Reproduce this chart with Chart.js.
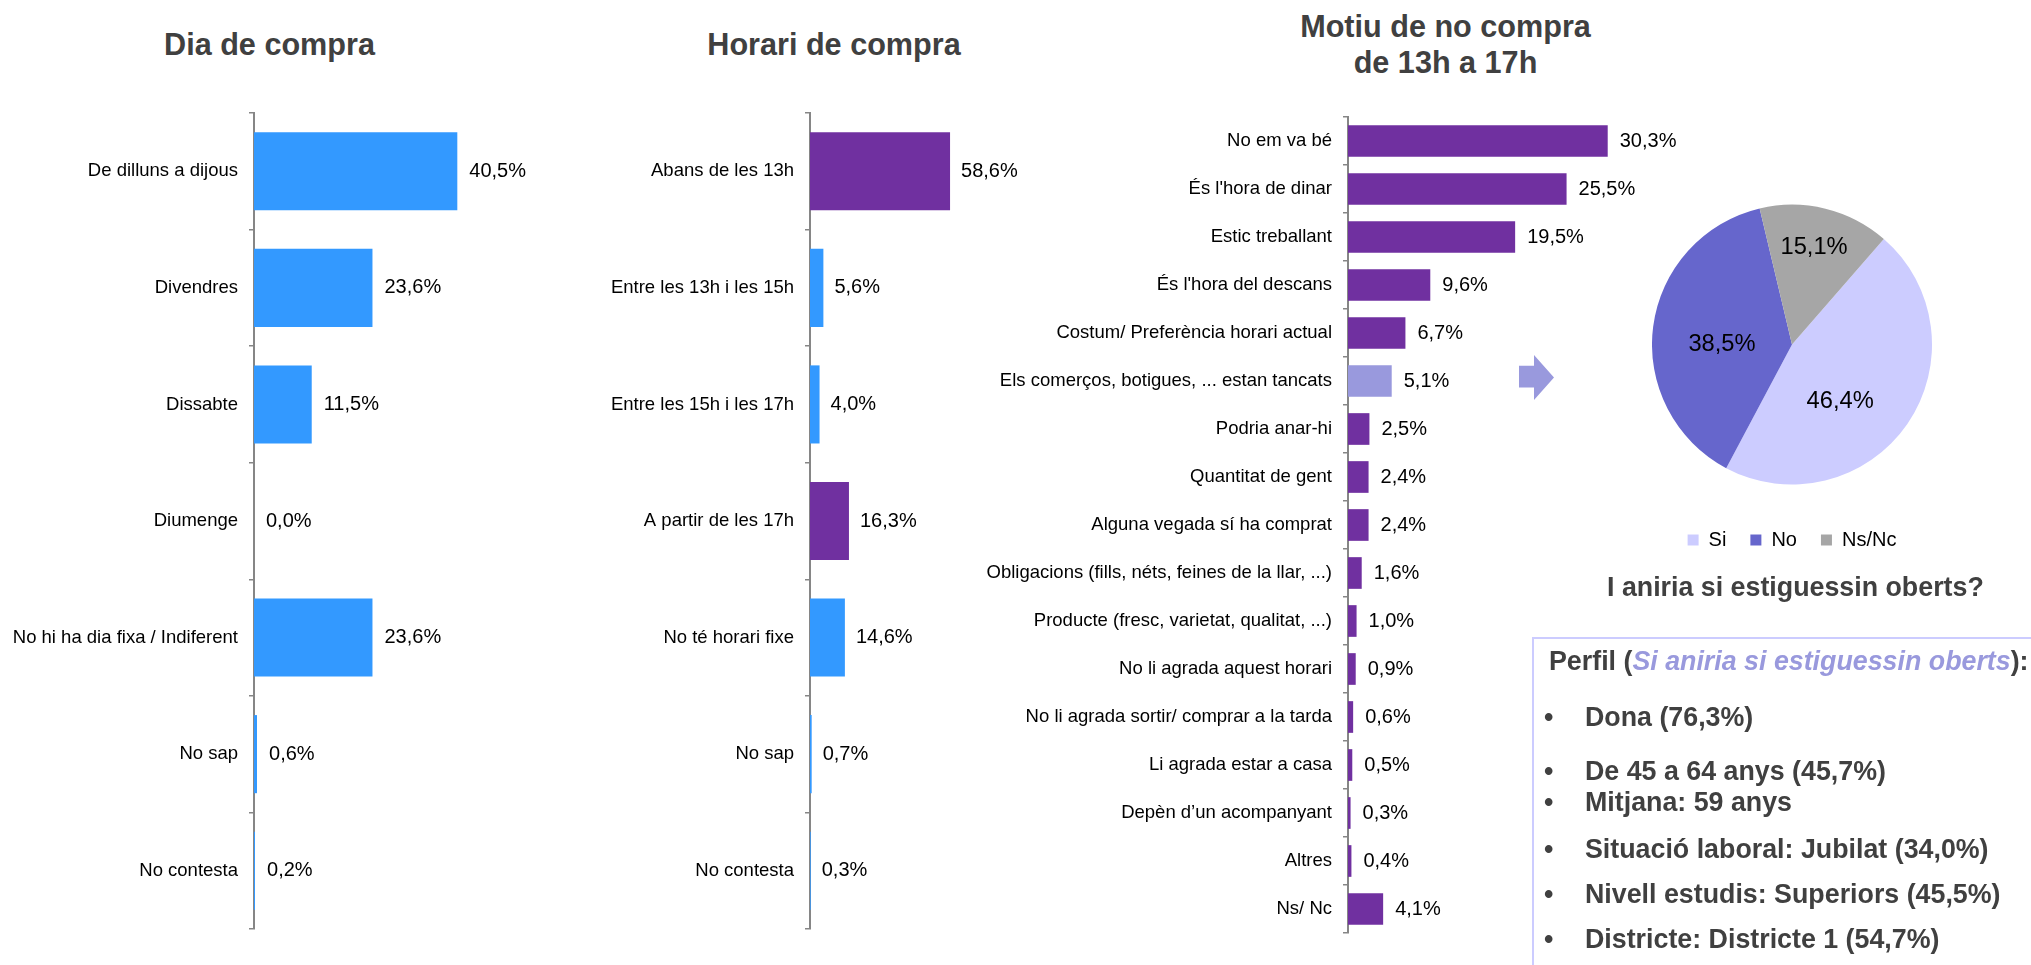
<!DOCTYPE html>
<html>
<head>
<meta charset="utf-8">
<script src="https://cdn.jsdelivr.net/npm/chart.js@4/dist/chart.umd.min.js"></script>
<style>
html,body{margin:0;padding:0;background:#fff;}
body{width:2031px;height:965px;overflow:hidden;position:relative;font-family:"Liberation Sans",Arial,sans-serif;}
canvas{position:absolute;}
.title{position:absolute;font-weight:bold;color:#404040;white-space:nowrap;text-align:center;font-size:30.6px;line-height:30.6px;width:500px;}
.q{position:absolute;font-weight:bold;color:#404040;white-space:nowrap;text-align:center;font-size:26.8px;line-height:26.8px;width:500px;left:1545.4px;top:574.3px;}
.box{position:absolute;left:1532px;top:636.7px;width:520px;height:360px;border:2px solid #CCCCFF;box-sizing:border-box;}
.pl{position:absolute;font-weight:bold;color:#404040;white-space:nowrap;font-size:26.8px;line-height:26.8px;}
.pl .b{position:absolute;left:-41px;}
</style>
</head>
<body>
<canvas id="c1" width="540" height="840" style="left:0;top:100px;"></canvas>
<canvas id="c2" width="520" height="840" style="left:560px;top:100px;"></canvas>
<canvas id="c3" width="720" height="840" style="left:960px;top:100px;"></canvas>
<canvas id="c4" width="280" height="380" style="left:1652px;top:180px;"></canvas>

<div class="title" style="left:19.5px;top:29.1px;">Dia de compra</div>
<div class="title" style="left:584px;top:29.1px;">Horari de compra</div>
<div class="title" style="left:1195.5px;top:9.3px;line-height:35.4px;">Motiu de no compra<br>de 13h a 17h</div>

<svg style="position:absolute;left:0;top:0;" width="2031" height="965">
  <polygon points="1519,365.8 1534,365.8 1534,355 1554,377.5 1534,400 1534,387.5 1519,387.5" fill="#9999DD"/>
</svg>

<div class="q">I aniria si estiguessin oberts?</div>

<div class="box"></div>
<div class="pl" style="left:1549px;top:648px;">Perfil (<i style="color:#9999DD;">Si aniria si estiguessin oberts</i>):</div>
<div class="pl" style="left:1585px;top:704px;"><span class="b">•</span>Dona (76,3%)</div>
<div class="pl" style="left:1585px;top:758px;"><span class="b">•</span>De 45 a 64 anys (45,7%)</div>
<div class="pl" style="left:1585px;top:789px;"><span class="b">•</span>Mitjana: 59 anys</div>
<div class="pl" style="left:1585px;top:835.6px;"><span class="b">•</span>Situació laboral: Jubilat (34,0%)</div>
<div class="pl" style="left:1585px;top:881.3px;"><span class="b">•</span>Nivell estudis: Superiors (45,5%)</div>
<div class="pl" style="left:1585px;top:925.6px;"><span class="b">•</span>Districte: Districte 1 (54,7%)</div>

<script>
// ---------- DATA ----------
const diaCategories = ["De dilluns a dijous", "Divendres", "Dissabte", "Diumenge", "No hi ha dia fixa / Indiferent", "No sap", "No contesta"];
const diaValues = [40.5, 23.6, 11.5, 0.0, 23.6, 0.6, 0.2];

const horariCategories = ["Abans de les 13h", "Entre les 13h i les 15h", "Entre les 15h i les 17h", "A partir de les 17h", "No té horari fixe", "No sap", "No contesta"];
const horariValues = [58.6, 5.6, 4.0, 16.3, 14.6, 0.7, 0.3];

const motiuCategories = ["No em va bé", "És l'hora de dinar", "Estic treballant", "És l'hora del descans", "Costum/ Preferència horari actual", "Els comerços, botigues, ... estan tancats", "Podria anar-hi", "Quantitat de gent", "Alguna vegada sí ha comprat", "Obligacions (fills, néts, feines de la llar, ...)", "Producte (fresc, varietat, qualitat, ...)", "No li agrada aquest horari", "No li agrada sortir/ comprar a la tarda", "Li agrada estar a casa", "Depèn d\u2019un acompanyant", "Altres", "Ns/ Nc"];
const motiuValues = [30.3, 25.5, 19.5, 9.6, 6.7, 5.1, 2.5, 2.4, 2.4, 1.6, 1.0, 0.9, 0.6, 0.5, 0.3, 0.4, 4.1];

const pieLabels = ["Si", "No", "Ns/Nc"];
const pieValues = [46.4, 38.5, 15.1];

// ---------- STYLE ----------
const FONT = '"Liberation Sans", Arial, sans-serif';
const BLUE = '#3399FF', PURPLE = '#7030A0', LAV = '#9999DD';
const diaColors = diaValues.map(() => BLUE);
const horariColors = [PURPLE, BLUE, BLUE, PURPLE, BLUE, BLUE, BLUE];
const motiuColors = motiuValues.map((v, i) => i === 5 ? LAV : PURPLE);
const pieColors = ['#CCCCFF', '#6666CC', '#A6A6A6'];
const pieLabelRadius = [0.53, 0.5, 0.71];
const pieLabelAngleShift = [15, -7, -1];

function fmt(v) { return v.toFixed(1).replace('.', ',') + '%'; }

function valueLabels(gap) {
  return {
    id: 'valueLabels',
    afterDatasetsDraw(chart) {
      const ctx = chart.ctx;
      const meta = chart.getDatasetMeta(0);
      const data = chart.data.datasets[0].data;
      ctx.save();
      ctx.font = '20px ' + FONT;
      ctx.fillStyle = '#000';
      ctx.textBaseline = 'middle';
      ctx.textAlign = 'left';
      meta.data.forEach((bar, i) => {
        ctx.fillText(fmt(data[i]), Math.max(bar.x, bar.base) + gap, bar.y);
      });
      ctx.restore();
    }
  };
}

function makeBar(id, labels, values, colors, cfg) {
  return new Chart(document.getElementById(id), {
    type: 'bar',
    data: {
      labels: labels,
      datasets: [{
        data: values,
        backgroundColor: colors,
        borderWidth: 0,
        barPercentage: cfg.barPct,
        categoryPercentage: 1
      }]
    },
    options: {
      indexAxis: 'y',
      responsive: false,
      animation: false,
      layout: { padding: cfg.padding },
      plugins: { legend: { display: false }, tooltip: { enabled: false } },
      scales: {
        x: { display: false, min: 0, max: cfg.max },
        y: {
          afterFit(s) { s.width = cfg.axisWidth; s.paddingTop = 0; s.paddingBottom = 0; },
          grid: { display: true, offset: true, drawOnChartArea: false, drawTicks: true, tickLength: 5, color: '#868686', lineWidth: 1.5 },
          border: { display: true, color: '#868686', width: 2 },
          ticks: { color: '#000', font: { family: FONT, size: 18.5 }, padding: 11, autoSkip: false }
        }
      }
    },
    plugins: [valueLabels(cfg.gap)]
  });
}

makeBar('c1', diaCategories, diaValues, diaColors, {
  barPct: 0.67, max: 50, axisWidth: 254, gap: 12,
  padding: { top: 13, bottom: 11, left: 0, right: 35 }
});
makeBar('c2', horariCategories, horariValues, horariColors, {
  barPct: 0.67, max: 100, axisWidth: 250, gap: 11,
  padding: { top: 13, bottom: 11, left: 0, right: 31 }
});
makeBar('c3', motiuCategories, motiuValues, motiuColors, {
  barPct: 0.66, max: 35, axisWidth: 388, gap: 12,
  padding: { top: 17, bottom: 7, left: 0, right: 32 }
});

new Chart(document.getElementById('c4'), {
  type: 'pie',
  data: {
    labels: pieLabels,
    datasets: [{ data: pieValues, backgroundColor: pieColors, borderWidth: 0 }]
  },
  options: {
    responsive: false,
    animation: false,
    rotation: 41,
    layout: { padding: { top: 3.2, bottom: 0, left: 0, right: 0 } },
    plugins: {
      tooltip: { enabled: false },
      legend: {
        position: 'bottom',
        labels: { boxWidth: 11, boxHeight: 11, padding: 24, color: '#000', font: { family: FONT, size: 20 } }
      }
    }
  },
  plugins: [{
    id: 'pieLabels',
    afterDatasetsDraw(chart) {
      const ctx = chart.ctx;
      const meta = chart.getDatasetMeta(0);
      const data = chart.data.datasets[0].data;
      ctx.save();
      ctx.font = '23.7px ' + FONT;
      ctx.fillStyle = '#000';
      ctx.textAlign = 'center';
      ctx.textBaseline = 'middle';
      meta.data.forEach((arc, i) => {
        const a = (arc.startAngle + arc.endAngle) / 2 + pieLabelAngleShift[i] * Math.PI / 180;
        const r = arc.outerRadius * pieLabelRadius[i];
        ctx.fillText(fmt(data[i]), arc.x + Math.cos(a) * r, arc.y + Math.sin(a) * r);
      });
      ctx.restore();
    }
  }]
});
</script>
</body>
</html>
